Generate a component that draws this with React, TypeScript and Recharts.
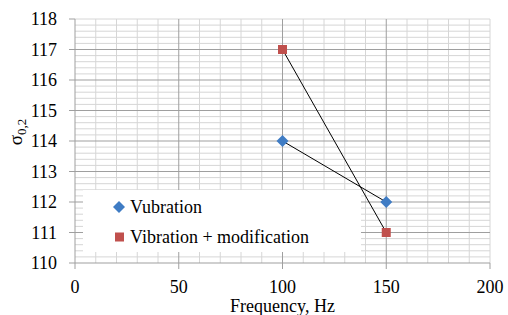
import {
  ScatterChart, Scatter, XAxis, YAxis, ReferenceLine,
} from 'recharts';

const frequencies = [100, 150];
const vubration = [114, 112];
const modification = [117, 111];

const xTicks = [0, 50, 100, 150, 200];
const yTicks = [110, 111, 112, 113, 114, 115, 116, 117, 118];
const xMinor = [10, 20, 30, 40, 60, 70, 80, 90, 110, 120, 130, 140, 160, 170, 180, 190, 200];
const yMinor = [
  110.2, 110.4, 110.6, 110.8, 111.2, 111.4, 111.6, 111.8,
  112.2, 112.4, 112.6, 112.8, 113.2, 113.4, 113.6, 113.8,
  114.2, 114.4, 114.6, 114.8, 115.2, 115.4, 115.6, 115.8,
  116.2, 116.4, 116.6, 116.8, 117.2, 117.4, 117.6, 117.8, 118,
];
const xMajor = [50, 100, 150];
const yMajor = [111, 112, 113, 114, 115, 116, 117];

const seriesA = frequencies.map((x, i) => ({ x, y: vubration[i] }));
const seriesB = frequencies.map((x, i) => ({ x, y: modification[i] }));

const FONT = '"Liberation Serif", "Times New Roman", serif';
const BLUE = '#3f7cc4';
const RED = '#c0504d';
const MINOR = '#d6d6d6';
const MAJOR = '#9f9f9f';

function Diamond({ cx, cy }: any) {
  const r = 6;
  return <polygon points={`${cx},${cy - r} ${cx + r},${cy} ${cx},${cy + r} ${cx - r},${cy}`} fill={BLUE} />;
}

function Square({ cx, cy }: any) {
  return <rect x={cx - 4.5} y={cy - 4.5} width={9} height={9} fill={RED} />;
}

function XLabel({ viewBox }: any) {
  const { x, y, width } = viewBox;
  return (
    <text x={x + width / 2} y={y + 49} textAnchor="middle" style={{ fontFamily: FONT, fontSize: 18 }} fill="#000">
      Frequency, Hz
    </text>
  );
}

function YLabel() {
  return (
    <text x={22} y={132} transform="rotate(-90, 22, 132)" textAnchor="middle" style={{ fontFamily: FONT, fontSize: 19 }} fill="#000">
      σ<tspan dy={4} style={{ fontSize: 13 }}>0,2</tspan>
    </text>
  );
}

function LegendBox() {
  const st = { fontFamily: FONT, fontSize: 18 };
  return (
    <div style={{ position: 'absolute', left: 83, top: 190, width: 278, height: 62, background: '#fff' }}>
      <svg width={278} height={62}>
        <polygon points="36,11 42,17 36,23 30,17" fill={BLUE} />
        <text x={47} y={23} style={st} fill="#000">Vubration</text>
        <rect x={32} y={42.5} width={9} height={9} fill={RED} />
        <text x={47} y={53} style={st} fill="#000">Vibration + modification</text>
      </svg>
    </div>
  );
}

export default function App() {
  const tick = { fontSize: 18, fill: '#000', fontFamily: FONT };
  return (
    <div style={{ position: 'absolute', left: 0, top: 0, width: 508, height: 315, background: '#fff', fontFamily: FONT }}>
      <ScatterChart width={508} height={315} margin={{ top: 19, right: 18, left: 0, bottom: 0 }}>
        <XAxis
          type="number" dataKey="x" domain={[0, 200]} ticks={xTicks}
          tick={tick} tickSize={6} tickMargin={11}
          stroke={MAJOR} height={52} label={<XLabel />}
        />
        <YAxis
          type="number" dataKey="y" domain={[110, 118]} ticks={yTicks}
          tick={tick} tickSize={6} tickMargin={12}
          stroke={MAJOR} width={75} label={<YLabel />}
        />
        {xMinor.map((v) => <ReferenceLine key={`xm${v}`} x={v} stroke={MINOR} ifOverflow="visible" />)}
        {yMinor.map((v) => <ReferenceLine key={`ym${v}`} y={v} stroke={MINOR} ifOverflow="visible" />)}
        {xMajor.map((v) => <ReferenceLine key={`xM${v}`} x={v} stroke={MAJOR} />)}
        {yMajor.map((v) => <ReferenceLine key={`yM${v}`} y={v} stroke={MAJOR} />)}
        <Scatter
          name="Vubration" data={seriesA} shape={<Diamond />}
          line={{ stroke: '#000', strokeWidth: 1 }} lineType="joint" isAnimationActive={false}
        />
        <Scatter
          name="Vibration + modification" data={seriesB} shape={<Square />}
          line={{ stroke: '#000', strokeWidth: 1 }} lineType="joint" isAnimationActive={false}
        />
      </ScatterChart>
      <LegendBox />
    </div>
  );
}
